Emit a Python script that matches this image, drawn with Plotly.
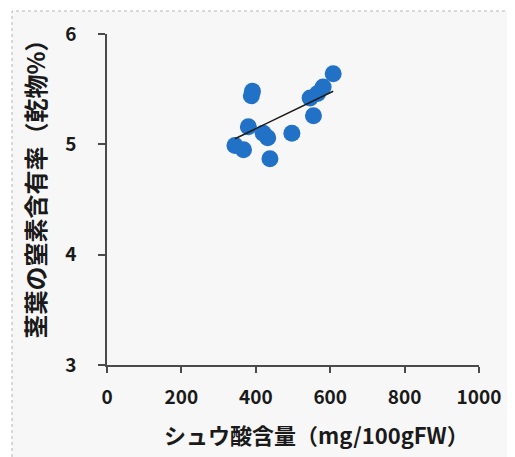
import plotly.graph_objects as go

# Data
oxalic_mg = [344, 367, 380, 388, 391, 420, 432, 438, 497, 546, 555, 566, 581, 608]
nitrogen_pct = [4.99, 4.95, 5.16, 5.44, 5.48, 5.10, 5.06, 4.87, 5.10, 5.42, 5.26, 5.46, 5.52, 5.64]
trend_slope = 0.00163
trend_intercept = 4.49
x_ticks = [0, 200, 400, 600, 800, 1000]
y_ticks = [3, 4, 5, 6]

OFF = 8  # page body margin
W, H = 515 - OFF, 457 - OFF
L, R, T, B = 107 - OFF, 36, 34 - OFF, 92
pw, ph = W - L - R, H - T - B

def px_x(p):
    return (p - OFF - L) / pw

def px_y(p):
    return (H - B - (p - OFF)) / ph

tx = [min(oxalic_mg), max(oxalic_mg)]
ty = [trend_intercept + trend_slope * v for v in tx]

fig = go.Figure()
fig.add_trace(go.Scatter(
    x=oxalic_mg, y=nitrogen_pct, mode="markers",
    marker=dict(size=17, color="#2171c7", line=dict(width=0)),
    showlegend=False, hoverinfo="skip"))
fig.add_trace(go.Scatter(
    x=tx, y=ty, mode="lines",
    line=dict(color="#1a1a1a", width=1.5),
    showlegend=False, hoverinfo="skip"))

axis_color = "#4a4a4a"
tickfont = dict(family="Noto Sans CJK JP", size=19, color="#1a1a1a", weight="bold")

fig.update_xaxes(range=[0, 1000], tickvals=x_ticks, ticks="outside", ticklen=6,
                 tickcolor=axis_color, tickwidth=1.5, showline=True, linecolor=axis_color,
                 linewidth=1.5, showgrid=False, zeroline=False, tickfont=tickfont,
                 ticklabelstandoff=8)
fig.update_yaxes(range=[3, 6], tickvals=y_ticks, ticks="outside", ticklen=7,
                 tickcolor=axis_color, tickwidth=1.5, showline=True, linecolor=axis_color,
                 linewidth=1.5, showgrid=False, zeroline=False, tickfont=tickfont,
                 ticklabelstandoff=18)

title_font = dict(family="Noto Sans CJK JP", size=22, color="#1a1a1a", weight="bold")
fig.add_annotation(text="シュウ酸含量（mg/100gFW）", xref="paper", yref="paper",
                   x=px_x(316.5), y=px_y(434), showarrow=False, font=title_font,
                   xanchor="center", yanchor="middle")
fig.add_annotation(text="茎葉の窒素含有率（乾物%）", xref="paper", yref="paper",
                   x=px_x(34), y=px_y(183.5), showarrow=False,
                   font=dict(family="Noto Sans CJK JP", size=24, color="#1a1a1a", weight="bold"),
                   textangle=-90, xanchor="center", yanchor="middle")

# Light panel with dotted border behind the chart
fig.add_shape(type="rect", xref="paper", yref="paper",
              x0=px_x(12), x1=px_x(530), y0=px_y(470), y1=px_y(11),
              fillcolor="#f7f7f7", line=dict(color="#b5b5b5", width=1, dash="dot"),
              layer="below")

fig.update_layout(width=W, height=H, margin=dict(l=L, r=R, t=T, b=B),
                  paper_bgcolor="white", plot_bgcolor="rgba(0,0,0,0)")

fig.write_html("out.html")
